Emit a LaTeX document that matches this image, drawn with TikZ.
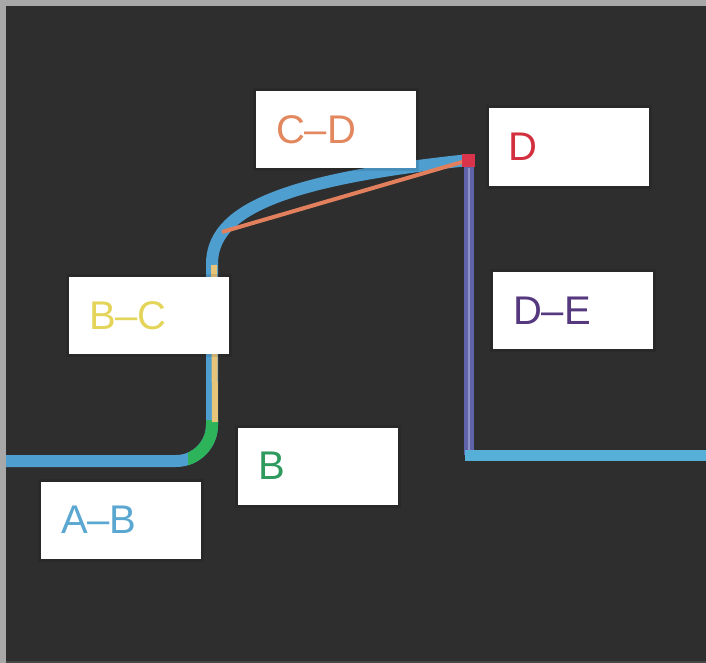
\documentclass[tikz,border=0pt]{standalone}
\usepackage{fontspec}
\setmainfont{Liberation Sans}
\definecolor{frame}{HTML}{A8A8A8}
\definecolor{bg}{HTML}{2E2E2E}
\definecolor{edgeline}{HTML}{474747}
\definecolor{abblue}{HTML}{4E9FCF}
\definecolor{cdblue}{HTML}{4F9DCB}
\definecolor{bgreen}{HTML}{2DB35A}
\definecolor{bcyellow}{HTML}{E6C47A}
\definecolor{cdorange}{HTML}{E27F5C}
\definecolor{dred}{HTML}{D9344B}
\definecolor{depurple}{HTML}{5E63AA}
\definecolor{eblue}{HTML}{55AFD6}
\definecolor{tCD}{HTML}{E2875E}
\definecolor{tD}{HTML}{D3303F}
\definecolor{tBC}{HTML}{E4D55A}
\definecolor{tDE}{HTML}{55387E}
\definecolor{tB}{HTML}{2F9A5E}
\definecolor{tAB}{HTML}{5AA7D1}
\tikzset{
  labelbox/.style={fill=white, draw=none, minimum height=77pt, text width=120pt,
    inner xsep=20pt, inner ysep=0pt, align=left,
    font=\fontsize{40}{48}\selectfont,
    preaction={draw=black, draw opacity=0.1, line width=6pt}},
  route/.style={line cap=butt, line join=round}
}
\begin{document}
\begin{tikzpicture}[x=1pt, y=-1pt]
  % canvas: grey frame on top and left, dark panel
  \fill[frame] (0,0) rectangle (706,663);
  \fill[bg] (6,6) rectangle (706,663);
  \fill[edgeline] (6,661) rectangle (706,663);
  \useasboundingbox (0,0) rectangle (706,663);

  % route points
  \coordinate (A) at (6,461);
  \coordinate (Bk) at (212,461);
  \coordinate (B) at (212,420);
  \coordinate (C) at (212,300);
  \coordinate (Cy) at (214,265);
  \coordinate (Co) at (222,232);
  \coordinate (D) at (469,160);
  \coordinate (Dk) at (469,455);
  \coordinate (E) at (706,455);

  % A-B-C-D: one thick blue route with a rounded bend and a curve up to D
  \draw[route, abblue, line width=12pt, rounded corners=36pt]
    (A) -- (Bk) -- (C) .. controls (212,212) and (278,180) .. (D);
  % B: green highlight on the bend
  \begin{scope}
    \clip (188,416) rectangle (230,475);
    \draw[route, bgreen, line width=12pt, rounded corners=36pt] (A) -- (Bk) -- (B);
  \end{scope}
  % B-C: thin yellow riser
  \draw[route, bcyellow, line width=6pt] (215,422) -- (Cy);
  % C-D: direct orange link
  \draw[route, cdorange, line width=4pt] (Co) -- (D);
  % D-E: vertical drop, then blue run to E
  \draw[route, depurple, line width=10pt] (D) -- (Dk);
  \draw[route, eblue, line width=11pt] ([xshift=-4pt]Dk) -- (E);
  \draw[depurple!70!white, line width=2pt] (469,168) -- (469,450);
  % D marker
  \fill[dred] ([shift={(-7pt,-7pt)}]D) rectangle ([shift={(6pt,6pt)}]D);

  % labels
  \node[labelbox, text=tCD] (lCD) at (336,130) {C--D};
  \node[labelbox, text=tD]  (lD)  at (568.5,147) {D};
  \node[labelbox, text=tBC] (lBC) at (149,315.5) {B--C};
  \node[labelbox, text=tDE] (lDE) at (573,310.5) {D--E};
  \node[labelbox, text=tB]  (lB)  at (318,466) {B};
  \node[labelbox, text=tAB] (lAB) at (121,520) {A--B};
\end{tikzpicture}
\end{document}
